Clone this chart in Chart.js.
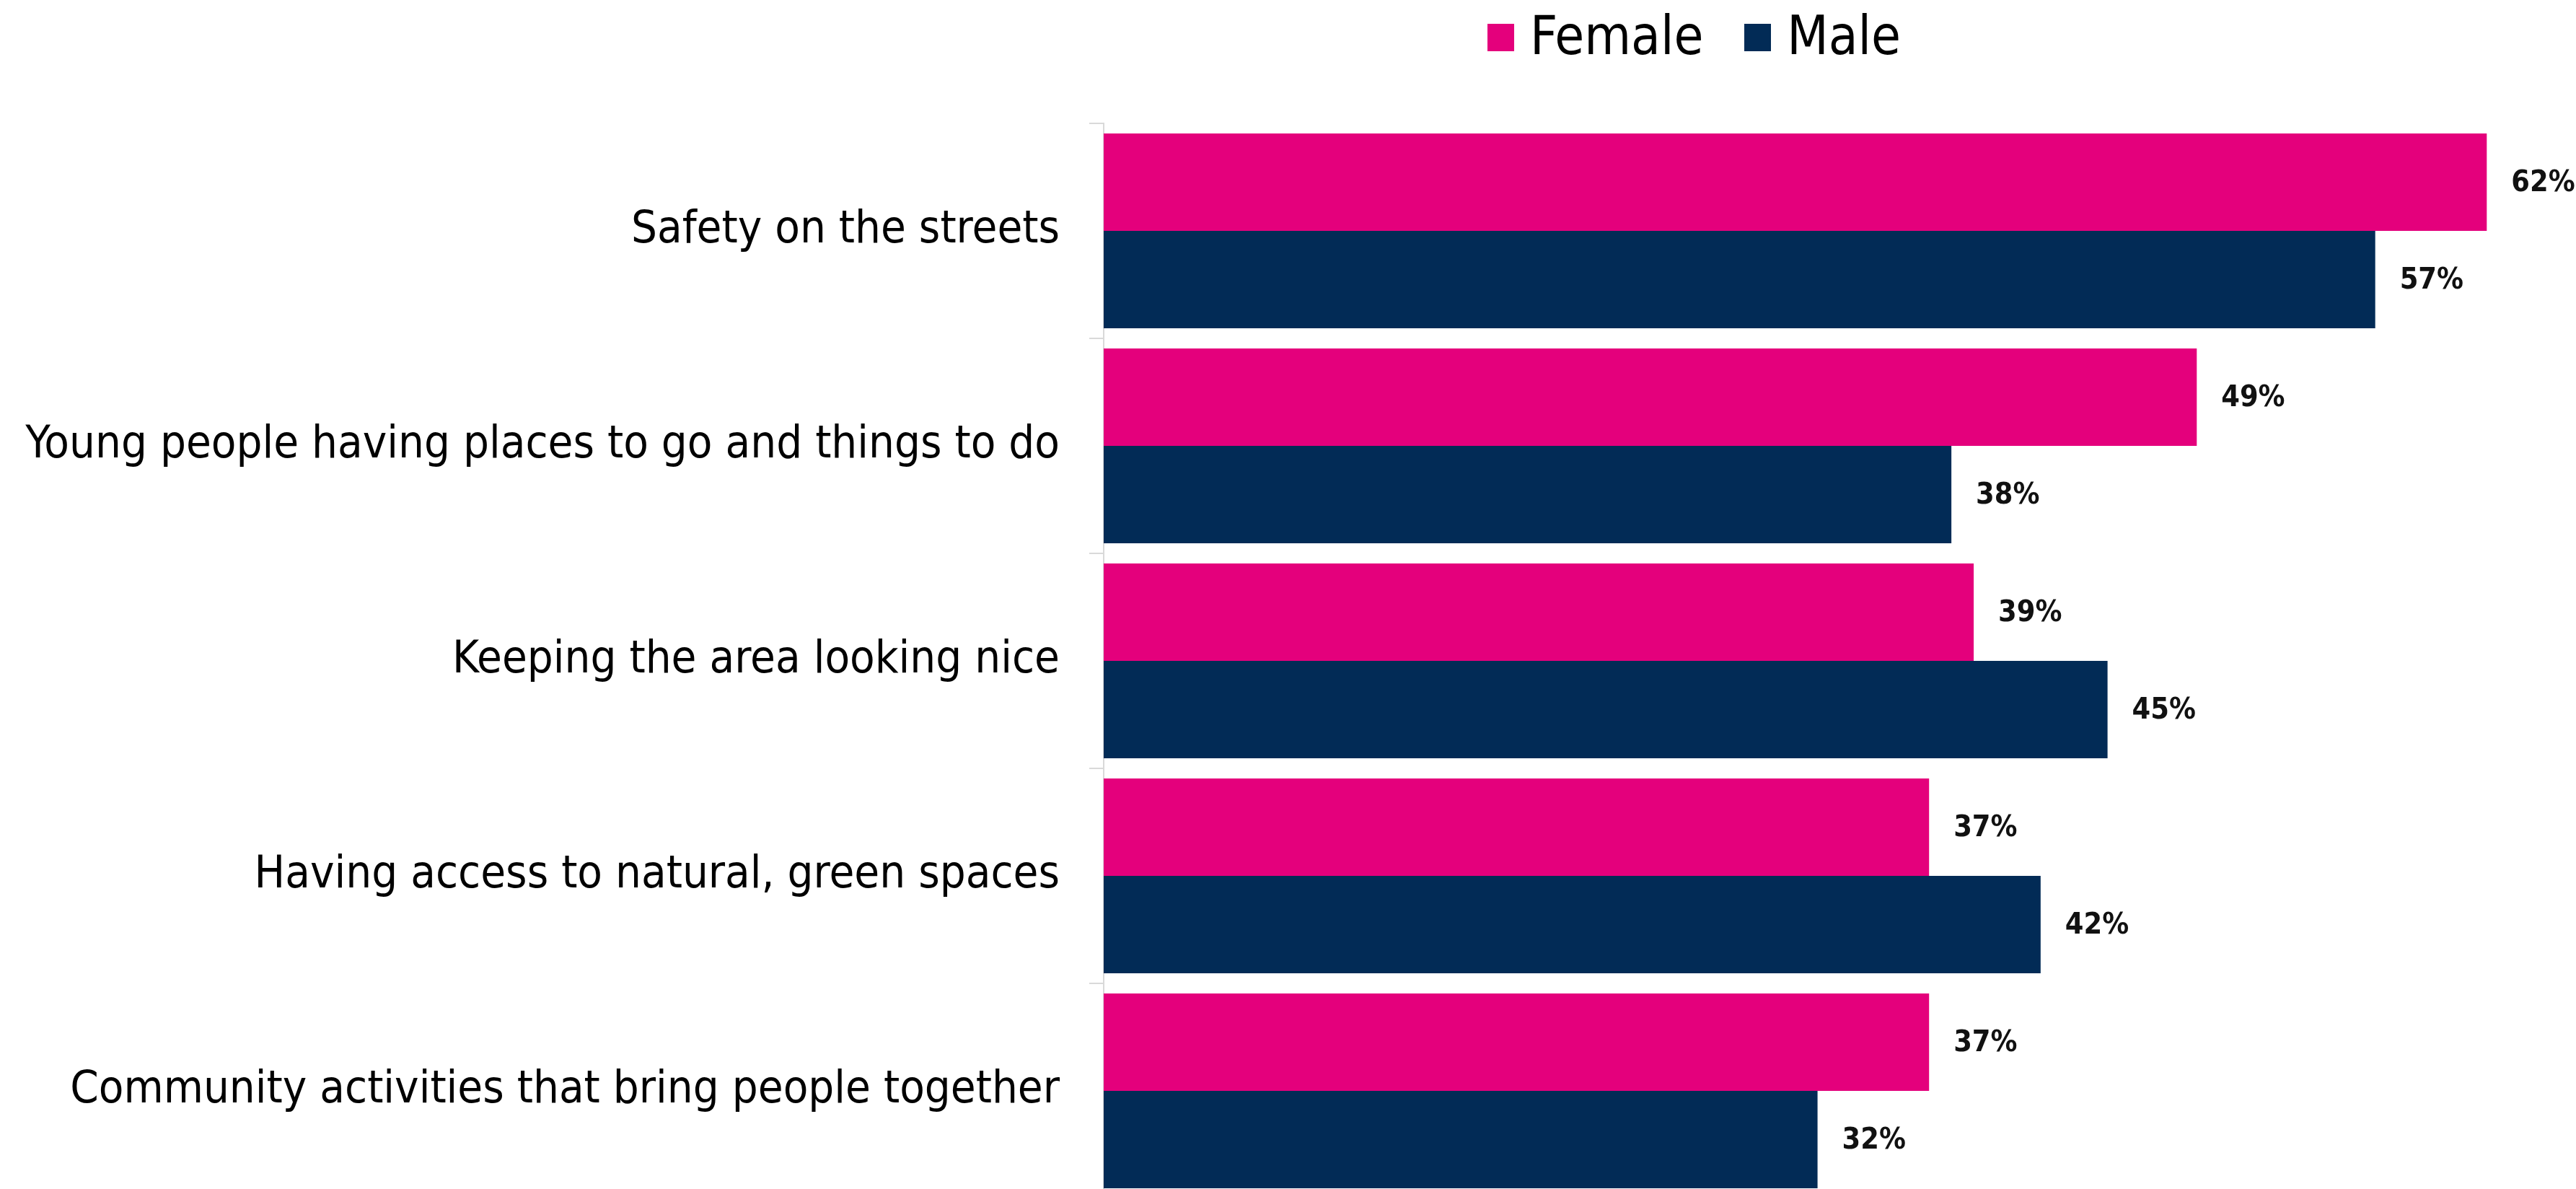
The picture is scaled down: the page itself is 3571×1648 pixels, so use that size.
<!DOCTYPE html>
<html>
<head>
<meta charset="utf-8">
<script src="https://cdn.jsdelivr.net/npm/chart.js@4.4.1/dist/chart.umd.min.js"></script>
<style>
    html, body { margin: 0; padding: 0; background: #fff; }
    #wrap { position: relative; width: 3571px; height: 1648px; overflow: hidden; }
    #legend {
        position: absolute; left: 2062px; top: 6px;
        display: flex; align-items: center;
        font-family: "DejaVu Sans Condensed", sans-serif;
        font-size: 74px; line-height: 86px; color: #000;
    }
    #legend .item { display: flex; align-items: center; margin-right: 57px; }
    #legend .box { width: 37px; height: 38px; margin-right: 22px; margin-top: 6px; }
</style>
</head>
<body>
<div id="wrap">
    <div id="legend"></div>
    <canvas id="chart" width="3571" height="1661"></canvas>
</div>
<script>
    // categorias e valores (%)
    const categories = [
        'Safety on the streets',
        'Young people having places to go and things to do',
        'Keeping the area looking nice',
        'Having access to natural, green spaces',
        'Community activities that bring people together'
    ];
    const femaleValues = [62, 49, 39, 37, 37];
    const maleValues = [57, 38, 45, 42, 32];
    const seriesNames = ['Female', 'Male'];
    const seriesColors = ['#e4007c', '#022b56'];

    const fontFamily = '"DejaVu Sans Condensed", sans-serif';

    // rótulos de valor no fim das barras
    const valueLabels = {
        id: 'valueLabels',
        afterDatasetsDraw(chart) {
            const ctx = chart.ctx;
            ctx.save();
            ctx.font = 'bold 41px ' + fontFamily;
            ctx.fillStyle = '#111';
            ctx.textAlign = 'left';
            ctx.textBaseline = 'middle';
            chart.data.datasets.forEach((ds, i) => {
                chart.getDatasetMeta(i).data.forEach((bar, j) => {
                    ctx.fillText(ds.data[j] + '%', bar.x + 34, bar.y + 2);
                });
            });
            ctx.restore();
        }
    };

    const chart = new Chart(document.getElementById('chart'), {
        type: 'bar',
        data: {
            labels: categories,
            datasets: [
                { label: seriesNames[0], data: femaleValues, backgroundColor: seriesColors[0] },
                { label: seriesNames[1], data: maleValues, backgroundColor: seriesColors[1] }
            ]
        },
        options: {
            indexAxis: 'y',
            responsive: false,
            devicePixelRatio: 1,
            animation: false,
            layout: { padding: { top: 171, right: 0, bottom: 0, left: 0 } },
            categoryPercentage: 0.906,
            barPercentage: 1.0,
            plugins: {
                legend: { display: false },
                tooltip: { enabled: false }
            },
            scales: {
                x: {
                    display: false,
                    min: 0,
                    max: 66
                },
                y: {
                    afterFit(scale) {
                        scale.width = 1530;
                        scale.paddingTop = 0;
                        scale.paddingBottom = 0;
                    },
                    grid: {
                        offset: true,
                        drawOnChartArea: false,
                        drawTicks: true,
                        tickLength: 20,
                        color: '#d9d9d9',
                        lineWidth: 2
                    },
                    border: { color: '#d9d9d9', width: 2 },
                    ticks: {
                        padding: 41,
                        color: '#000',
                        font: { family: fontFamily, size: 63 }
                    }
                }
            }
        },
        plugins: [valueLabels]
    });

    // legenda em HTML
    const legend = document.getElementById('legend');
    chart.data.datasets.forEach(ds => {
        const item = document.createElement('div');
        item.className = 'item';
        const box = document.createElement('span');
        box.className = 'box';
        box.style.background = ds.backgroundColor;
        const txt = document.createElement('span');
        txt.textContent = ds.label;
        item.appendChild(box);
        item.appendChild(txt);
        legend.appendChild(item);
    });
</script>
</body>
</html>
